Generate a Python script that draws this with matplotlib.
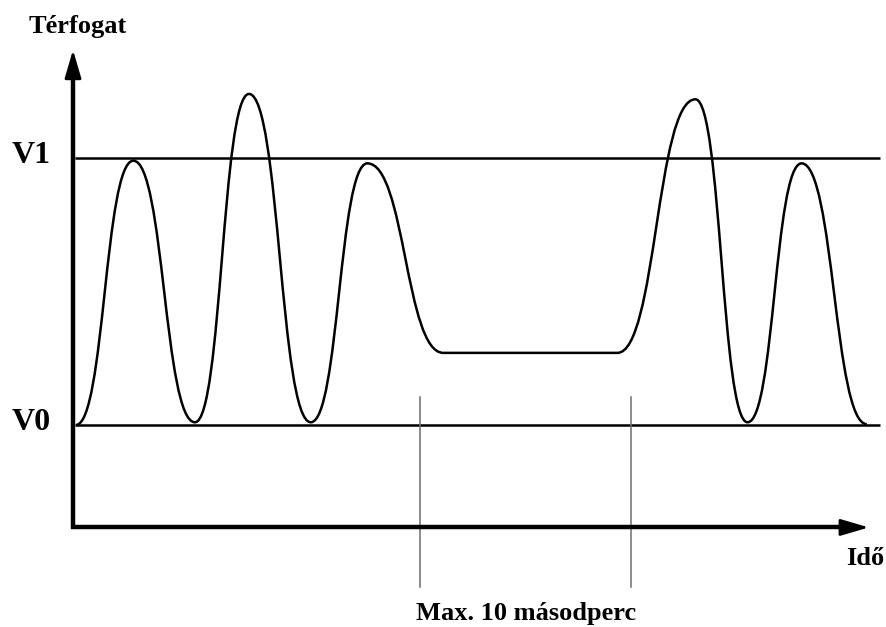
import matplotlib
matplotlib.use('Agg')
import matplotlib.pyplot as plt
from matplotlib.path import Path
from matplotlib.patches import PathPatch

# Turning points of the volume curve (time in s, volume relative: V0 = 0, V1 = 1)
turn_times = [0.14, 2.86, 5.78, 8.34, 11.27, 13.95, 17.55, 25.8, 29.5, 31.97, 34.53, 37.62]
turn_volumes = [0.0, 0.99, 0.01, 1.24, 0.01, 0.98, 0.27, 0.27, 1.22, 0.01, 0.98, 0.003]

levels = {'V0': 0.0, 'V1': 1.0}
window = [16.45, 26.45]   # the "max. 10 s" interval

# Setting up a figure where one axes fills the whole canvas
fig = plt.figure(figsize=(8.87, 6.27), dpi=100)
ax = fig.add_axes([0, 0, 1, 1])
ax.set_xlim(-3.46, 38.58)
ax.set_ylim(-0.757, 1.592)
ax.axis('off')

font = dict(family='Liberation Serif', weight='bold', color='black')

# Reference levels
for name, v in levels.items():
    ax.plot([0.09, 38.25], [v, v], color='black', lw=1.8, solid_capstyle='butt')
    ax.text(-2.89, v - 0.02, name, fontsize=23, ha='left', va='baseline', **font)

# Smooth curve through the turning points (horizontal tangents at each one)
k = 0.5
verts = [(turn_times[0], turn_volumes[0])]
codes = [Path.MOVETO]
for i in range(1, len(turn_times)):
    t0, v0 = turn_times[i - 1], turn_volumes[i - 1]
    t1, v1 = turn_times[i], turn_volumes[i]
    dt = t1 - t0
    verts += [(t0 + k * dt, v0), (t1 - k * dt, v1), (t1, v1)]
    codes += [Path.CURVE4] * 3
ax.add_patch(PathPatch(Path(verts, codes), facecolor='none', edgecolor='black', lw=1.8))

# Interval markers
for t in window:
    ax.plot([t, t], [0.105, -0.607], color='#6e6e6e', lw=1.1)

# Axes with arrows
y_axis = -0.384
ax.plot([0, 0, 36.6], [1.33, y_axis, y_axis], color='black', lw=3.2,
        solid_joinstyle='miter', solid_capstyle='butt')
arrow = dict(arrowstyle='-|>,head_length=0.75,head_width=0.22', color='black',
             lw=2.0, mutation_scale=23, shrinkA=0, shrinkB=0)
ax.annotate('', xy=(0, 1.405), xytext=(0, 1.2), arrowprops=arrow)
ax.annotate('', xy=(37.72, y_axis), xytext=(36.0, y_axis), arrowprops=arrow)

# Labels
ax.text(0.24, 1.47, 'Térfogat', fontsize=19, ha='center', va='baseline', **font)
ax.text(36.64, -0.524, 'Idő', fontsize=19, ha='left', va='baseline', **font)
ax.text(21.45, -0.730, 'Max. 10 másodperc', fontsize=19, ha='center', va='baseline', **font)

fig.savefig('out.png', dpi=100, facecolor='white')
plt.close(fig)
